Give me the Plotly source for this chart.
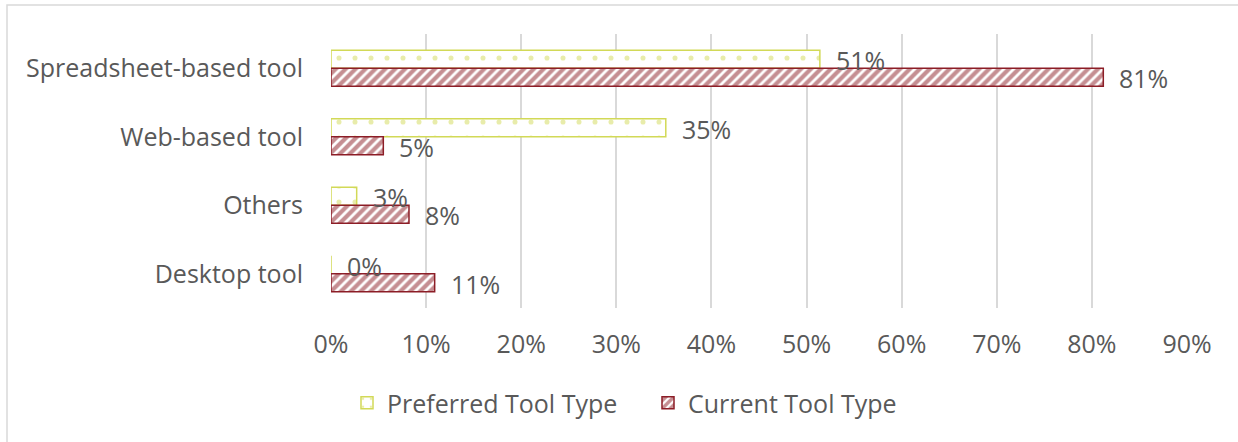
import plotly.graph_objects as go

categories = ["Spreadsheet-based tool", "Web-based tool", "Others", "Desktop tool"]
preferred = [51.4, 35.2, 2.7, 0.0]
current = [81.2, 5.5, 8.2, 10.9]
preferred_labels = ["51%", "35%", "3%", "0%"]
current_labels = ["81%", "5%", "8%", "11%"]
x_ticks = [0, 10, 20, 30, 40, 50, 60, 70, 80, 90]
x_tick_labels = [f"{t}%" for t in x_ticks]

GREEN = "#d2d957"
RED = "#8c1d26"
TEXT = "#595959"
FONT = "Open Sans"
FS = 25

W, H = 1238, 442
ML, MR, MT, MB = 331, 51, 34, 134
PW, PH = W - ML - MR, H - MT - MB

fig = go.Figure()
fig.add_trace(go.Bar(
    name="Preferred Tool Type", y=categories, x=preferred, orientation="h",
    marker=dict(color="white", line=dict(color=GREEN, width=1.5),
                pattern=dict(shape=".", fgcolor=GREEN, bgcolor="white", size=16, solidity=0.08)),
))
fig.add_trace(go.Bar(
    name="Current Tool Type", y=categories, x=current, orientation="h",
    marker=dict(color="white", line=dict(color=RED, width=1.5),
                pattern=dict(shape="/", fgcolor=RED, bgcolor="white", size=7, solidity=0.6)),
))

for cat, v, lab in zip(categories, preferred, preferred_labels):
    fig.add_annotation(x=v, y=cat, text=lab, showarrow=False, xanchor="left",
                       xshift=14, yshift=8, font=dict(family=FONT, size=FS, color=TEXT))
for cat, v, lab in zip(categories, current, current_labels):
    fig.add_annotation(x=v, y=cat, text=lab, showarrow=False, xanchor="left",
                       xshift=14, yshift=-10, font=dict(family=FONT, size=FS, color=TEXT))

# chart border
fig.add_shape(type="rect", xref="paper", yref="paper",
              x0=(7 - ML) / PW, x1=(W + 20 - ML) / PW,
              y0=(MT + PH - (H + 20)) / PH, y1=(MT + PH - 5) / PH,
              line=dict(color="#d9d9d9", width=1.5), fillcolor="rgba(0,0,0,0)", layer="below")

fig.update_layout(
    width=W, height=H,
    margin=dict(l=ML, r=MR, t=MT, b=MB),
    paper_bgcolor="white", plot_bgcolor="white",
    barmode="group", bargap=0.474, bargroupgap=0,
    font=dict(family=FONT, size=FS, color=TEXT),
    showlegend=True,
    legend=dict(orientation="h", x=(347 - ML) / PW, xanchor="left",
                y=(MT + PH - 403) / PH, yanchor="middle",
                font=dict(family=FONT, size=FS, color=TEXT),
                itemwidth=30, entrywidth=256, traceorder="normal"),
    xaxis=dict(range=[0, 90], tickvals=x_ticks, ticktext=x_tick_labels,
               showgrid=True, gridcolor="#d9d9d9", gridwidth=1.5, zeroline=False,
               showline=False, ticks="outside", ticklen=14, tickcolor="rgba(0,0,0,0)",
               tickfont=dict(family=FONT, size=FS, color=TEXT), fixedrange=True),
    yaxis=dict(autorange="reversed", showgrid=False, zeroline=False, showline=False,
               ticks="outside", ticklen=22, tickcolor="rgba(0,0,0,0)",
               tickfont=dict(family=FONT, size=FS, color=TEXT), fixedrange=True),
)

fig.write_html("out.html", config={"displayModeBar": False},
               post_script="document.body.style.margin='0';document.body.style.overflow='hidden';")
